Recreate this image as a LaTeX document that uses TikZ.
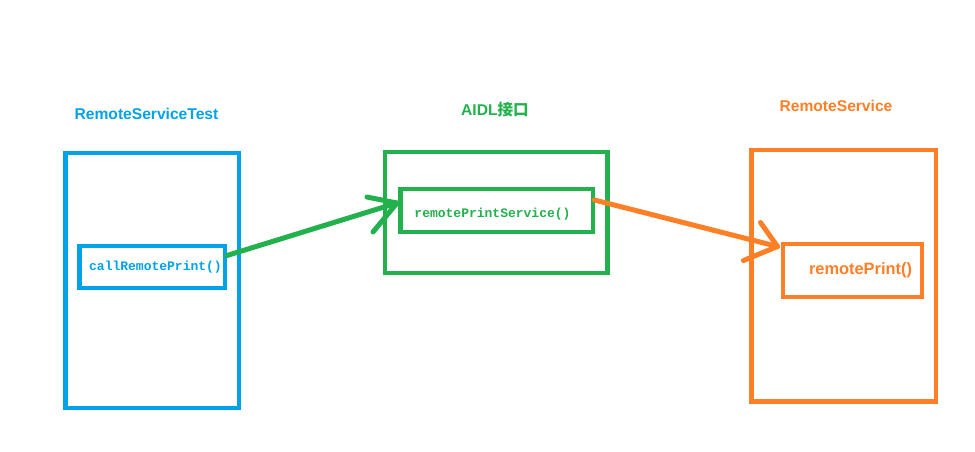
\documentclass[tikz,border=0pt]{standalone}
\usepackage{fontspec}
\usetikzlibrary{calc}
\setmainfont{Liberation Sans}
\setmonofont{Liberation Mono}
\newfontfamily\cjkfont{Noto Sans CJK SC}
\definecolor{pblue}{RGB}{0,162,232}
\definecolor{pgreen}{RGB}{34,177,76}
\definecolor{porange}{RGB}{255,127,39}
\begin{document}
\begin{tikzpicture}[x=1pt,y=-1pt,
  box/.style={draw,line width=4.5pt,inner sep=0pt,outer sep=0pt},
  title/.style={font=\bfseries\fontsize{15.6}{18}\selectfont,inner sep=0pt},
  code/.style={font=\ttfamily\bfseries\fontsize{13}{15}\selectfont,inner sep=0pt},
  arr/.style={line width=5pt,line cap=round,line join=round}]
\useasboundingbox[fill=white] (0,0) rectangle (975,451);
% blue
\node[box,pblue,minimum width=173.5pt,minimum height=255pt] (bo) at (152.25,280.5) {};
\node[box,pblue,minimum width=145.5pt,minimum height=42pt] (bi) at (152.25,267) {};
\node[code,pblue] (bt) at (155.5,267) {callRemotePrint()};
\node[title,pblue] (btitle) at (146.5,114) {RemoteServiceTest};
% green
\node[box,pgreen,minimum width=222.5pt,minimum height=121pt] (go) at (496.25,212.5) {};
\node[box,pgreen,minimum width=192.5pt,minimum height=43pt] (gi) at (496.75,210.5) {};
\node[code,pgreen] (gt) at (492.5,214) {remotePrintService()};
\node[title,pgreen] (gtitle) at (495,110) {AIDL{\cjkfont 接口}};
% orange
\node[box,porange,minimum width=184.5pt,minimum height=251.5pt] (oo) at (843.75,275.75) {};
\node[box,porange,minimum width=139pt,minimum height=53pt] (oi) at (852.5,270.5) {};
\node[title,porange,font=\bfseries\fontsize{16.4}{19}\selectfont] (ot) at (860.5,270) {remotePrint()};
\node[title,porange] (otitle) at (836,106) {RemoteService};
% arrows
\coordinate (gs) at (227,255.5);
\coordinate (gtip) at (397,203);
\draw[arr,pgreen] (gs) -- (gtip);
\draw[arr,pgreen] ($(gtip)+(-30,-6)$) -- (gtip) -- ++(-24,29);
\coordinate (os) at (594.5,200);
\coordinate (otip) at (777.5,246.5);
\draw[arr,porange] (os) -- (otip);
\draw[arr,porange] ($(otip)+(-17,-24)$) -- (otip) -- ++(-34,14);
\end{tikzpicture}
\end{document}
